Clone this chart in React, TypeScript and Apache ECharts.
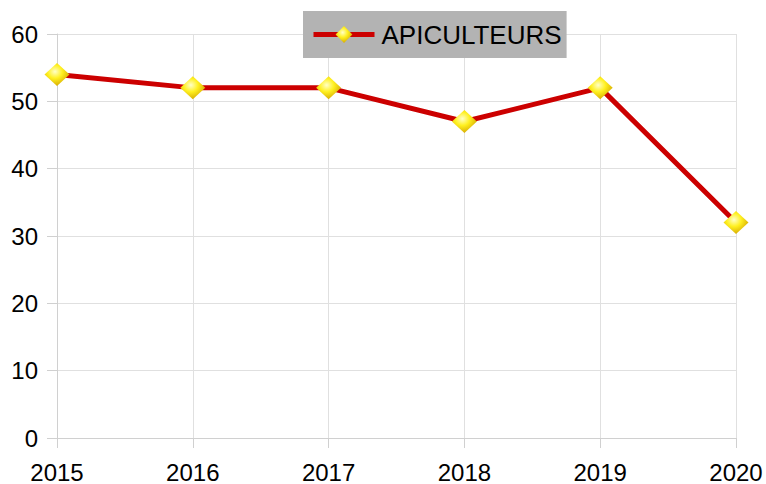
import React, { useEffect, useRef } from "react";
import * as echarts from "echarts";

const years = ["2015", "2016", "2017", "2018", "2019", "2020"];
const apiculteurs = [54, 52, 52, 47, 52, 32];
const seriesName = "APICULTEURS";

const FONT = "Liberation Sans";

export default function App() {
  const ref = useRef<HTMLDivElement>(null);
  useEffect(() => {
    document.body.style.margin = "0";
    const chart = echarts.init(ref.current!, null, { renderer: "svg" });
    const markerColor = new echarts.graphic.RadialGradient(0.42, 0.38, 0.65, [
      { offset: 0, color: "#ffffc8" },
      { offset: 0.45, color: "#fff020" },
      { offset: 1, color: "#d4a800" },
    ]);
    chart.setOption({
      animation: false,
      backgroundColor: "#ffffff",
      textStyle: { fontFamily: FONT },
      grid: { left: 57, right: 30, top: 34, bottom: 45 },
      legend: {
        left: 303,
        top: 11,
        backgroundColor: "#b3b3b3",
        padding: [10, 5, 10, 8],
        itemWidth: 61,
        itemHeight: 21,
        itemGap: 0,
        lineStyle: { width: 5 },
        textStyle: { fontSize: 26, lineHeight: 27, color: "#000", fontFamily: FONT, padding: [0, 0, 0, 2] },
        data: [{ name: seriesName }],
      },
      xAxis: {
        type: "category",
        data: years,
        boundaryGap: false,
        axisLine: { lineStyle: { color: "#d0d0d0", width: 1 } },
        axisTick: { show: true, length: 10, lineStyle: { color: "#d0d0d0" } },
        splitLine: { show: true, lineStyle: { color: "#e0e0e0" } },
        axisLabel: { fontSize: 24, color: "#000", margin: 22, fontFamily: FONT },
      },
      yAxis: {
        type: "value",
        min: 0,
        max: 60,
        interval: 10,
        axisLine: { show: true, lineStyle: { color: "#d0d0d0", width: 1 } },
        axisTick: { show: true, length: 10, lineStyle: { color: "#d0d0d0" } },
        splitLine: { show: true, lineStyle: { color: "#e0e0e0" } },
        axisLabel: { fontSize: 24, color: "#000", margin: 19, fontFamily: FONT },
      },
      series: [
        {
          name: seriesName,
          type: "line",
          data: apiculteurs,
          symbol: "diamond",
          symbolSize: [25, 23],
          lineStyle: { color: "#cc0000", width: 5 },
          itemStyle: { color: markerColor, borderWidth: 0 },
        },
      ],
    });
    return () => chart.dispose();
  }, []);
  return <div ref={ref} style={{ width: 766, height: 484 }} />;
}
